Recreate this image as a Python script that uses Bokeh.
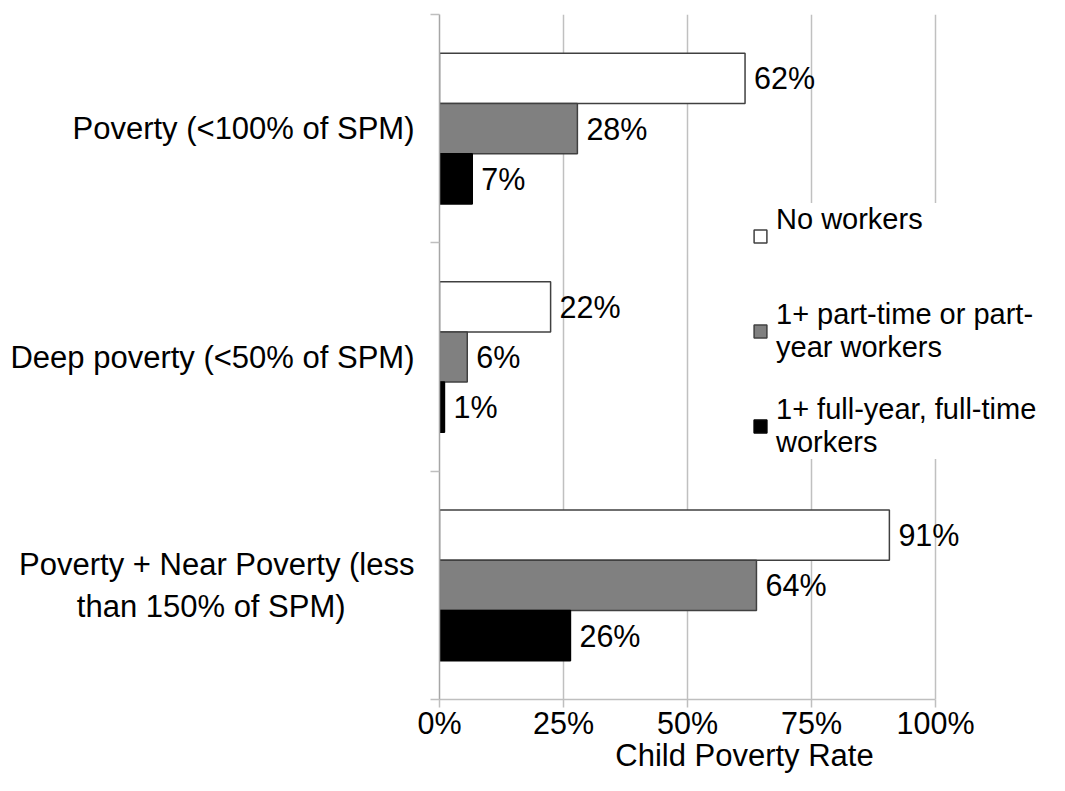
from bokeh.plotting import figure
from bokeh.models import (Range1d, LinearAxis, FixedTicker,
                          ColumnDataSource, Legend, LegendItem, PrintfTickFormatter)
from bokeh.transform import dodge
from bokeh.core.properties import value
from bokeh.embed import file_html
from bokeh.resources import INLINE

# ---- data ----
categories = ["Poverty (<100% of SPM)",
              "Deep poverty (<50% of SPM)",
              "Poverty + Near Poverty (less than 150% of SPM)"]
category_labels = ["Poverty (<100% of SPM)",
                   "Deep poverty (<50% of SPM)",
                   "Poverty + Near Poverty (less\nthan 150% of SPM)" + "\u00a0" * 8]
series_names = ["No workers\n\u00a0",
                "1+ part-time or part-\nyear workers",
                "1+ full-year, full-time\nworkers"]
no_workers = [61.6, 22.4, 90.7]
part_time = [27.8, 5.6, 63.9]
full_time = [6.6, 1.0, 26.4]
x_ticks = [0, 25, 50, 75, 100]
x_title = "Child Poverty Rate"

FONT = "Liberation Sans"
FS = "30.5px"

n = len(categories)
# category slot centres, first category on top
slot = [n - i - 0.5 for i in range(n)]

source = ColumnDataSource(dict(
    cat=categories, slot=slot,
    none=no_workers, part=part_time, full=full_time,
    none_lbl=[f"{round(v)}%" for v in no_workers],
    part_lbl=[f"{round(v)}%" for v in part_time],
    full_lbl=[f"{round(v)}%" for v in full_time],
))

p = figure(width=1049, height=775,
           y_range=Range1d(0, n), x_range=Range1d(0, 122.98),
           output_backend="svg", toolbar_location=None, y_axis_location=None,
           min_border_left=439, min_border_top=14, min_border_right=0, min_border_bottom=76)
p.outline_line_color = None
p.ygrid.visible = False
p.xgrid.ticker = FixedTicker(ticks=x_ticks[1:])
p.xgrid.grid_line_color = "#c0c0c0"
p.xgrid.grid_line_width = 1.5

xa = p.xaxis[0]
xa.ticker = FixedTicker(ticks=x_ticks)
xa.formatter = PrintfTickFormatter(format="%d%%")
xa.bounds = (0, 100)
xa.axis_line_color = "#bfbfbf"
xa.axis_line_width = 1.5
xa.major_tick_line_color = "#bfbfbf"
xa.major_tick_line_width = 1.5
xa.major_tick_out = 8
xa.major_tick_in = 0
xa.minor_tick_line_color = None
xa.major_label_text_font = FONT
xa.major_label_text_font_size = FS
xa.major_label_text_color = "#000000"
xa.major_label_standoff = -2
xa.axis_label = x_title
xa.axis_label_text_font = FONT
xa.axis_label_text_font_size = "31px"
xa.axis_label_text_font_style = "normal"
xa.axis_label_text_color = "#000000"
xa.axis_label_standoff = -5

# boundary ticks axis (inner)
tick_axis = LinearAxis(ticker=FixedTicker(ticks=list(range(n + 1))),
                       major_label_overrides={i: "" for i in range(n + 1)},
                       major_label_standoff=0, major_label_text_font_size="1px",
                       axis_line_color="#a6a6a6", axis_line_width=1.5,
                       major_tick_line_color="#bfbfbf", major_tick_line_width=1.5,
                       major_tick_out=9, major_tick_in=0, minor_tick_line_color=None)
p.add_layout(tick_axis, "left")

# category label axis (outer)
cat_axis = LinearAxis(ticker=FixedTicker(ticks=slot),
                      major_label_overrides=dict(zip(slot, category_labels)),
                      major_tick_line_color=None, axis_line_color=None,
                      major_tick_out=0, major_tick_in=0, minor_tick_line_color=None,
                      major_label_text_font=FONT, major_label_text_font_size="31px",
                      major_label_text_color="#000000", major_label_standoff=16)
p.add_layout(cat_axis, "left")

bw = 0.22
specs = [("none", bw, "#ffffff", "#404040"),
         ("part", 0.0, "#808080", "#404040"),
         ("full", -bw, "#000000", "#000000")]
renderers = []
for col, off, fill, line in specs:
    r = p.hbar(y=dodge("slot", off), left=0, right=col, height=bw,
               fill_color=fill, line_color=line, line_width=1.5, source=source)
    renderers.append(r)
    p.text(x=col, y=dodge("slot", off), text=col + "_lbl",
           x_offset=9, text_baseline="middle", text_align="left",
           text_font=value(FONT), text_font_size=FS, text_color="#000000", source=source)

legend = Legend(items=[LegendItem(label=nm, renderers=[r]) for nm, r in zip(series_names, renderers)],
                location=(313, 240), padding=10, spacing=29, margin=0,
                glyph_width=16, glyph_height=16, label_standoff=8,
                label_text_font=FONT, label_text_font_size="29px", label_text_color="#000000",
                background_fill_color="white", background_fill_alpha=1.0,
                border_line_color=None)
p.add_layout(legend)

open("out.html", "w").write(file_html(p, INLINE))
